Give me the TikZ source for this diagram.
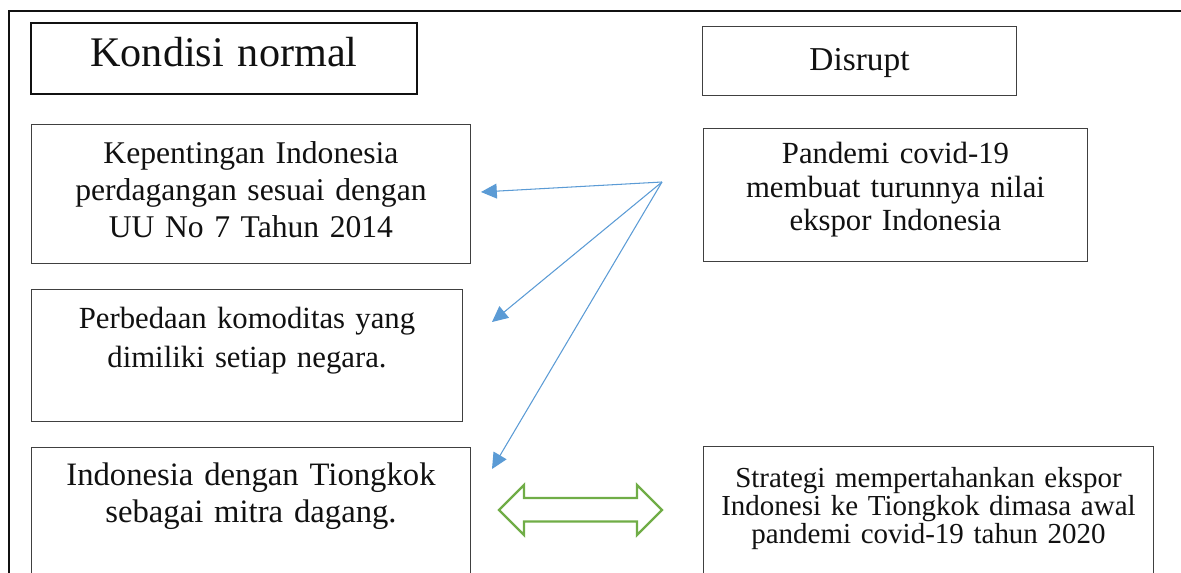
\documentclass[tikz,border=0pt]{standalone}
\usepackage{fontspec}
\setmainfont{Liberation Serif}
\usetikzlibrary{arrows.meta}
\definecolor{Ink}{HTML}{111111}
\definecolor{Edge}{HTML}{404040}
\definecolor{Sky}{HTML}{5B9BD5}
\definecolor{Leaf}{HTML}{70AD47}
\tikzset{
  box/.style={draw=Edge,line width=0.6pt,anchor=north west,align=center,inner sep=0pt,text=Ink},
  link/.style={Sky,line width=0.6pt,-{Triangle[length=9pt,width=8.5pt]}}
}
\begin{document}
\begin{tikzpicture}[x=0.02cm,y=-0.02cm]
        \useasboundingbox (0,0) rectangle (1181,572);
        \clip (0,0) rectangle (1181,572);
        \draw[Ink,line width=1.4pt] (9,600) -- (9,11) -- (1200,11);
        \node[box,draw=Ink,line width=1.1pt,text width=7.72cm,text height=24.5pt,text depth=15.9pt,font=\fontsize{24}{28}\selectfont] (normal) at (30,22) {Kondisi normal};
        \node[box,text width=6.28cm,text height=24.8pt,text depth=14.2pt,font=\fontsize{19}{22}\selectfont] (disrupt) at (702,26) {Disrupt};
        \node[box,text width=8.78cm,text height=22.7pt,text depth=56.6pt,font=\fontsize{18}{21}\selectfont] (kepentingan) at (31,123.5) {Kepentingan Indonesia\\perdagangan sesuai dengan\\UU No 7 Tahun 2014};
        \node[box,text width=7.68cm,text height=20.4pt,text depth=55.4pt,font=\fontsize{17.5}{19}\selectfont] (pandemi) at (703,127.5) {Pandemi covid-19\\membuat turunnya nilai\\ekspor Indonesia};
        \node[box,text width=8.62cm,text height=22.4pt,text depth=52.6pt,font=\fontsize{17.5}{21.8}\selectfont] (komoditas) at (31,289) {Perbedaan komoditas yang\\dimiliki setiap negara.};
        \node[box,text width=8.78cm,text height=21.9pt,text depth=65.4pt,font=\fontsize{18.6}{20.9}\selectfont] (mitra) at (31,446.5) {Indonesia dengan Tiongkok\\sebagai mitra dagang.};
        \node[box,text width=9.0cm,text height=23.2pt,text depth=64.5pt,font=\fontsize{16.5}{16.1}\selectfont] (strategi) at (703,446) {Strategi mempertahankan ekspor\\Indonesi ke Tiongkok dimasa awal\\pandemi covid-19 tahun 2020};
        \coordinate (hub) at (662,182);
        \coordinate (tipA) at (481,192);
        \coordinate (tipB) at (492,322);
        \coordinate (tipC) at (492,469);
        \foreach \tip in {tipA,tipB,tipC}
          \draw[link] (hub) -- (\tip);
        \draw[Leaf,line width=1.3pt,line join=miter] (499,510) -- (524,485) -- (524,498) -- (637,498) -- (637,485) -- (662,510) -- (637,535) -- (637,521.5) -- (524,521.5) -- (524,535) -- cycle;
      \end{tikzpicture}
\end{document}
